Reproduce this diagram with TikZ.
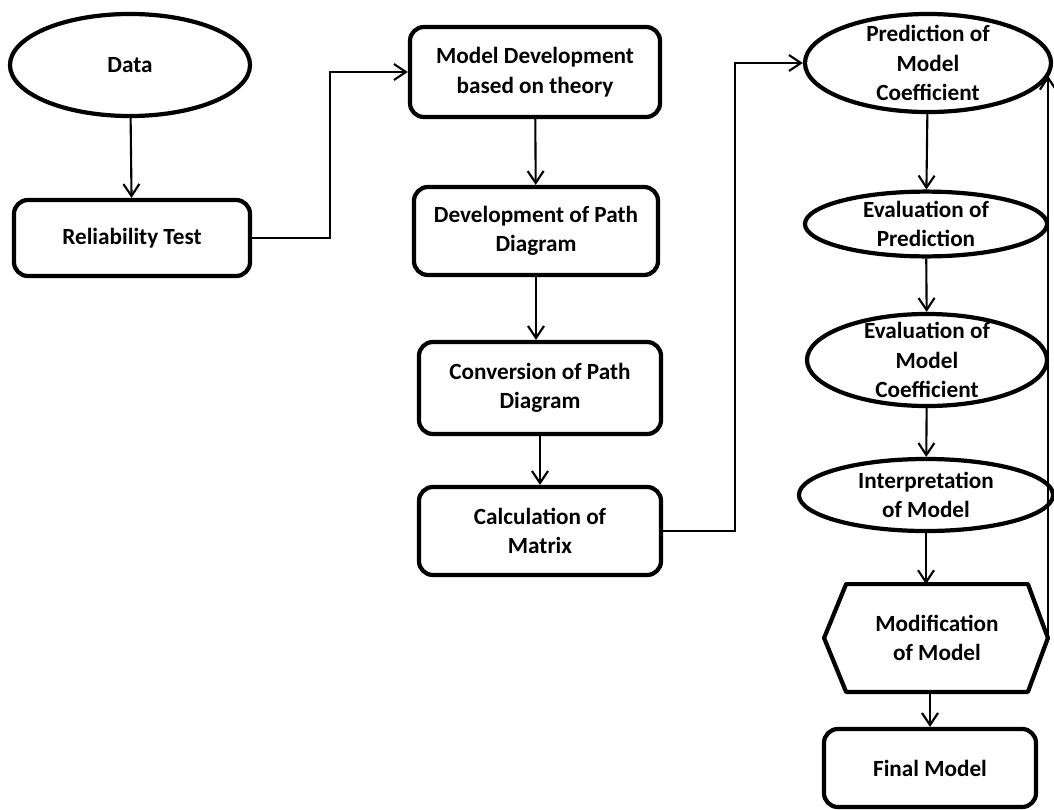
\documentclass[tikz,border=0pt]{standalone}
\usepackage{fontspec}
\setmainfont{Carlito}
\usetikzlibrary{shapes.geometric, arrows.meta}

\begin{document}
\begin{tikzpicture}[
    x=0.025cm, y=-0.025cm,
    every node/.style={font=\fontsize{16.5}{21}\selectfont\bfseries, align=center},
    process/.style={rectangle, draw, line width=3pt, rounded corners=0.35cm, inner sep=0pt},
    terminal/.style={ellipse, draw, line width=3pt, inner sep=0pt},
    hexline/.style={draw, line width=3pt, line join=round},
    arrow/.style={-{Straight Barb[length=3mm, width=4mm]}, line width=1.5pt}
]
\useasboundingbox (0,0) rectangle (1054,810);

% left part
\node[terminal, minimum width=6cm, minimum height=2.55cm] (data) at (130,65) {Data};
\node[process, minimum width=5.9cm, minimum height=1.9cm] (rel) at (132,238) {Reliability Test};

% middle column
\node[process, minimum width=6.25cm, minimum height=2.25cm] (mdev) at (535,72) {Model Development\\based on theory};
\node[process, minimum width=6.1cm, minimum height=2.2cm] (path) at (536,231) {Development of Path\\Diagram};
\node[process, minimum width=6.05cm, minimum height=2.3cm] (conv) at (540,388) {Conversion of Path\\Diagram};
\node[process, minimum width=6.05cm, minimum height=2.2cm] (calc) at (540,531) {Calculation of\\Matrix};

% right column
\node[terminal, minimum width=6.15cm, minimum height=2.45cm,
      label={center:{Prediction of\\Model\\Coefficient}}] (pred) at (928,63) {};
\node[terminal, minimum width=6.05cm, minimum height=1.62cm,
      label={center:{Evaluation of\\Prediction}}] (evpred) at (926,224) {};
\node[terminal, minimum width=6cm, minimum height=2.3cm,
      label={center:{Evaluation of\\Model\\Coefficient}}] (evcoef) at (927,360) {};
\node[terminal, minimum width=6.35cm, minimum height=1.8cm,
      label={center:{Interpretation\\of Model}}] (interp) at (926,495) {};
\node[minimum width=4.53cm, minimum height=2.68cm, inner sep=0pt] (modif) at (937,638) {Modification\\of Model};
\draw[hexline] (modif.north west) -- (modif.north east) -- ([xshift=0.5cm]modif.east) coordinate (mright)
    -- (modif.south east) -- (modif.south west) -- ([xshift=-0.55cm]modif.west) -- cycle;
\node[process, minimum width=5.3cm, minimum height=1.95cm] (final) at (930,768) {Final Model};

% connectors
\draw[arrow] (data) -- (rel);
\draw[arrow] (rel.east) -- ++(78,0) |- (mdev.west);
\draw[arrow] (mdev) -- (path);
\draw[arrow] (path) -- (path |- conv.north);
\draw[arrow] (conv) -- (calc);
\draw[arrow] (calc.east) -- ++(72,0) |- (pred.west);
\draw[arrow] (pred) -- (evpred);
\draw[arrow] (evpred) -- (evcoef);
\draw[arrow] (evcoef) -- (interp);
\draw[arrow] (interp) -- (interp |- modif.north);
\draw[arrow] (final |- modif.south) -- (final);
\draw[arrow] (mright) -- (mright |- pred.-6);

\end{tikzpicture}
\end{document}
